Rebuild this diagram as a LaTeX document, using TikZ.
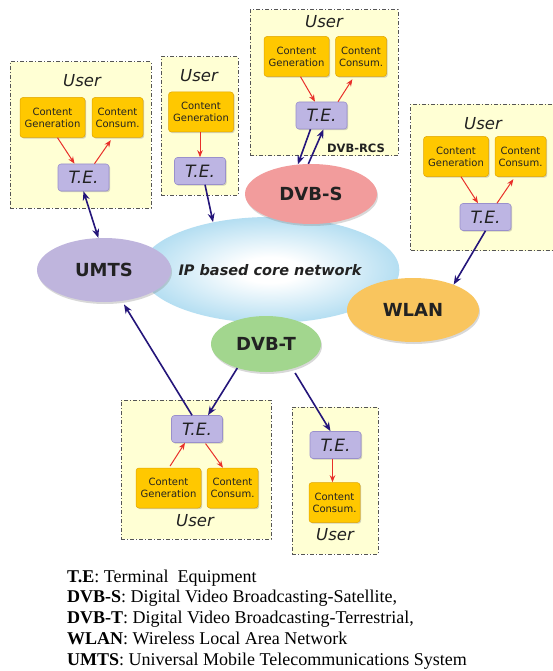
\documentclass[tikz,border=0pt]{standalone}
\usepackage{fontspec}
\setmainfont{Liberation Serif}
\newfontfamily\dv{DejaVu Sans}
\usetikzlibrary{shadows,arrows.meta,shapes.geometric}
\definecolor{userbg}{HTML}{FFFFD4}
\definecolor{boxgray}{HTML}{555555}
\definecolor{gold}{HTML}{FFC800}
\definecolor{golddark}{HTML}{E0A500}
\definecolor{tefill}{HTML}{BDB5E3}
\definecolor{teborder}{HTML}{9A90CC}
\definecolor{txt}{HTML}{222222}
\definecolor{umtsc}{HTML}{BFB5DD}
\definecolor{dvbsc}{HTML}{F29C9C}
\definecolor{wlanc}{HTML}{F9C55E}
\definecolor{dvbtc}{HTML}{A2D68E}
\definecolor{ipblue}{HTML}{62BAE3}
\definecolor{navy}{HTML}{24157A}
\definecolor{redc}{HTML}{E8302A}
\pgfdeclareradialshading{ipshade}{\pgfpoint{0bp}{0bp}}{%
  color(0bp)=(white); color(6bp)=(white); color(22bp)=(ipblue!40!white);
  color(40bp)=(ipblue!85!white); color(50bp)=(ipblue); color(72bp)=(ipblue)}
\begin{document}
\begin{tikzpicture}[x=1pt,y=-1pt,
  userbox/.style={rectangle, draw=boxgray, fill=userbg, line width=1pt, dash pattern=on 4pt off 2pt on 1pt off 2pt, inner sep=0},
  usertxt/.style={font=\dv\itshape\fontsize{16.5}{17}\selectfont, text=txt, inner sep=0},
  cbox/.style={rectangle, rounded corners=3pt, fill=gold, draw=golddark, line width=0.5pt, drop shadow={shadow xshift=1.2pt, shadow yshift=-1.2pt, opacity=0.35}, inner sep=0, minimum height=40, text=txt, font=\dv\fontsize{10}{12}\selectfont, align=center},
  cg/.style={cbox, minimum width=65},
  cc/.style={cbox, minimum width=51},
  te/.style={rectangle, rounded corners=3pt, fill=tefill, draw=teborder, line width=0.6pt, drop shadow={shadow xshift=1.2pt, shadow yshift=-1.2pt, opacity=0.35}, minimum width=51, minimum height=27, inner sep=0, font=\dv\itshape\fontsize{17}{17}\selectfont, text=txt},
  net/.style={ellipse, inner sep=0, font=\dv\bfseries\fontsize{18}{18}\selectfont, text=txt, drop shadow={shadow xshift=1pt, shadow yshift=-2pt, opacity=0.3}},
  navyarrow/.style={draw=navy, line width=1.6pt, -{Stealth[length=9pt,width=7pt]}},
  navyboth/.style={draw=navy, line width=1.6pt, {Stealth[length=9pt,width=7pt]}-{Stealth[length=9pt,width=7pt]}},
  redarrow/.style={draw=redc, line width=1pt, -{Stealth[length=7pt,width=5.5pt]}},
  legend/.style={anchor=base west, inner sep=0, font=\fontsize{18}{20}\selectfont, text=black}
]
\useasboundingbox (0,0) rectangle (553,671);
\fill[white] (0,0) rectangle (553,671);

% user boxes
\node[userbox, minimum width=141, minimum height=146] (u1) at (80.5,135) {};
\node[userbox, minimum width=77, minimum height=138] (u2) at (199.5,126) {};
\node[userbox, minimum width=148, minimum height=146] (u3) at (324,83) {};
\node[userbox, minimum width=146, minimum height=146, anchor=north west] (u4) at (410,104) {};
\node[userbox, minimum width=150, minimum height=139] (u5) at (196,469.5) {};
\node[userbox, minimum width=86, minimum height=147] (u6) at (335,480.5) {};

% user labels
\node[usertxt] (ul1) at (82,81) {User};
\node[usertxt] (ul2) at (199,76) {User};
\node[usertxt] (ul3) at (324,22) {User};
\node[usertxt] (ul4) at (483,124) {User};
\node[usertxt] (ul5) at (195,521) {User};
\node[usertxt] (ul6) at (335,535) {User};

% content boxes
\node[cg] (cg1) at (52.5,117.5) {Content\\Generation};
\node[cc] (cc1) at (117.5,117.5) {Content\\Consum.};
\node[cg] (cg2) at (201,112) {Content\\Generation};
\node[cg] (cg3) at (296.5,56.5) {Content\\Generation};
\node[cc] (cc3) at (361,56.5) {Content\\Consum.};
\node[cg] (cg4) at (456,156.5) {Content\\Generation};
\node[cc] (cc4) at (520.5,156.5) {Content\\Consum.};
\node[cg] (cg5) at (168.5,488) {Content\\Generation};
\node[cc] (cc5) at (232.5,488) {Content\\Consum.};
\node[cc] (cc6) at (334.5,502.5) {Content\\Consum.};

% terminal equipment
\node[te] (te1) at (83.5,177.5) {T.E.};
\node[te] (te2) at (200,171) {T.E.};
\node[te] (te3) at (321.5,115.5) {T.E.};
\node[te] (te4) at (485.5,217) {T.E.};
\node[te] (te5) at (197,429) {T.E.};
\node[te] (te6) at (335.5,445) {T.E.};

\node[font=\dv\bfseries\fontsize{11.5}{12}\selectfont, text=txt, inner sep=0] (rcs) at (356,148) {DVB-RCS};

% networks
\node[ellipse, minimum width=222, minimum height=106, inner sep=0, shading=ipshade, font=\dv\bfseries\itshape\fontsize{14.5}{15}\selectfont, text=txt] (ip) at (270,270) {IP based core network};
\node[net, fill=umtsc, minimum width=134, minimum height=64] (umts) at (104,270) {UMTS};
\node[net, fill=dvbsc, minimum width=132, minimum height=60] (dvbs) at (311,194) {DVB-S};
\node[net, fill=wlanc, minimum width=132, minimum height=64] (wlan) at (413,310) {WLAN};
\node[net, fill=dvbtc, minimum width=110, minimum height=56] (dvbt) at (266,344) {DVB-T};

% red arrows
\draw[redarrow] ([xshift=5pt]cg1.south) -- ([xshift=-9pt]te1.north);
\draw[redarrow, shorten >=3pt] ([xshift=11pt]te1.north) -- ([xshift=-5pt]cc1.south);
\draw[redarrow] (te2.north |- cg2.south) -- (te2.north);
\draw[redarrow] ([xshift=4pt]cg3.south) -- ([xshift=-6.5pt]te3.north);
\draw[redarrow, shorten >=3pt] ([xshift=16.5pt]te3.north) -- ([xshift=-7pt]cc3.south);
\draw[redarrow] ([xshift=5pt]cg4.south) -- ([xshift=-7.5pt]te4.north);
\draw[redarrow, shorten >=3pt] ([xshift=11.5pt]te4.north) -- ([xshift=-5.5pt]cc4.south);
\draw[redarrow, shorten <=2pt] ([xshift=0.5pt]cg5.north) -- ([xshift=-12pt]te5.south);
\draw[redarrow, shorten <=1pt] ([xshift=8pt]te5.south) -- ([xshift=-9.5pt]cc5.north);
\draw[redarrow] ([xshift=-3pt]te6.south) -- ([xshift=-2pt]cc6.north);

% navy arrows
\draw[navyboth] (te1.south) -- (umts.100);
\draw[navyarrow] (te2.290) -- (ip.140);
\draw[navyarrow] ([xshift=-11pt]te3.south) -- (dvbs.114);
\draw[navyarrow] (dvbs.95) -- ([xshift=2pt]te3.south);
\draw[navyarrow] (te4.south) -- (wlan.32);
\draw[navyarrow] (dvbt.220) -- ([xshift=11pt]te5.north);
\draw[navyarrow, shorten >=4pt] ([xshift=-5pt]te5.north) -- (umts.300);
\draw[navyarrow, shorten <=5pt] (dvbt.317) -- ([xshift=-5pt]te6.north);

% legend
\node[legend] (lg1) at (67,582) {\textbf{T.E}: Terminal\ \ Equipment};
\node[legend] (lg2) at (67,602) {\textbf{DVB-S}: Digital Video Broadcasting-Satellite,};
\node[legend] (lg3) at (67,623) {\textbf{DVB-T}: Digital Video Broadcasting-Terrestrial,};
\node[legend] (lg4) at (67,644) {\textbf{WLAN}: Wireless Local Area Network};
\node[legend] (lg5) at (67,665) {\textbf{UMTS}: Universal Mobile Telecommunications System};
\end{tikzpicture}
\end{document}
